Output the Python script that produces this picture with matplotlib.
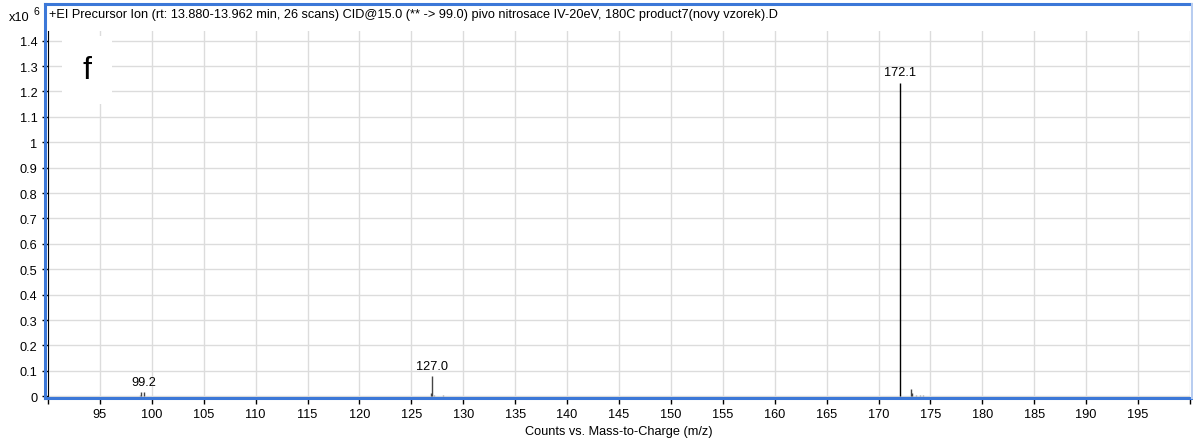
import matplotlib
matplotlib.use("Agg")
import matplotlib.pyplot as plt
import numpy as np
from matplotlib.patches import Rectangle
from matplotlib.ticker import FuncFormatter

plt.rcParams['font.family'] = ['Liberation Sans', 'DejaVu Sans']

# stick spectrum (m/z, counts x10^6)
mz = [98.9, 99.0, 99.2, 126.9, 127.0, 127.2, 128.0, 172.1, 173.1, 173.2, 173.6, 174.0, 174.3]
counts = [0.004, 0.015, 0.016, 0.012, 0.080, 0.006, 0.003, 1.235, 0.028, 0.014, 0.006, 0.004, 0.003]
peak_labels = [(99.2, 0.016, "99.2"), (127.0, 0.080, "127.0"), (172.1, 1.235, "172.1")]

title = ("+EI Precursor Ion (rt: 13.880-13.962 min, 26 scans) CID@15.0 (** -> 99.0) "
         "pivo nitrosace IV-20eV, 180C product7(novy vzorek).D")

W, H = 1193, 439
fs = 9.2
fig = plt.figure(figsize=(W / 100, H / 100), dpi=100)
fig.patch.set_facecolor("white")

# plot area in pixel units
x0, x1, ytop, ybot = 48, 1190, 32, 399
ax = fig.add_axes([x0 / W, (H - ybot) / H, (x1 - x0) / W, (ybot - ytop) / H])

colors = ["black" if c > 0.5 else "#444444" if c > 0.01 else "#999999" for c in counts]
ax.vlines(mz, 0, counts, colors=colors, lw=1, zorder=3)
for x, y, s in peak_labels:
    ax.annotate(s, (x, y), xytext=(0, 3), textcoords="offset points",
                ha="center", va="bottom", fontsize=fs)

ax.set_xlim(90, 200)
ax.set_ylim(-0.007, 1.438)
ax.set_xticks(np.arange(90, 201, 5))
ax.set_xticklabels(["" if v in (90, 200) else str(v) for v in range(90, 201, 5)])
ax.set_yticks(np.arange(0, 1.41, 0.1))
ax.yaxis.set_major_formatter(FuncFormatter(lambda v, p: "%g" % round(v, 1)))
ax.tick_params(direction="out", length=4, width=1, labelsize=fs, color="black")
ax.grid(True, color="#dcdcdc", lw=1, zorder=0)
ax.set_axisbelow(True)

for side in ("top", "right"):
    ax.spines[side].set_visible(False)
ax.spines["left"].set_color("black")
ax.spines["bottom"].set_color("black")

ax.set_xlabel("Counts vs. Mass-to-Charge (m/z)", fontsize=fs, labelpad=3)

# panel letter on a white patch
ax.add_patch(Rectangle((0.0123, 0.80), 0.044, 0.186, transform=ax.transAxes,
                       facecolor="white", edgecolor="none", zorder=2))
ax.text(0.034, 0.895, "f", transform=ax.transAxes, ha="center", va="center",
        fontsize=23, zorder=4)

# title band and blue frame
fig.text(49 / W, 1 - 15 / H, title, fontsize=fs, ha="left", va="center")
fig.text(9 / W, 1 - 18 / H, "x10", fontsize=fs, ha="left", va="center")
fig.text(33 / W, 1 - 12 / H, "6", fontsize=7.5, ha="left", va="center")

blue = "#3c78d8"
fig.add_artist(plt.Line2D([45 / W, 1191 / W], [1 - 5 / H, 1 - 5 / H], color=blue, lw=2.2))
fig.add_artist(plt.Line2D([45 / W, 45 / W], [1 - 5 / H, 1 - 399 / H], color=blue, lw=2.2))
fig.add_artist(plt.Line2D([45 / W, 1191 / W], [1 - 398.5 / H, 1 - 398.5 / H], color=blue, lw=2.2))
fig.add_artist(plt.Line2D([1192 / W, 1192 / W], [1 - 5 / H, 1 - 399 / H], color="#b8cdf0", lw=1.5))

fig.savefig("out.png", dpi=100)
